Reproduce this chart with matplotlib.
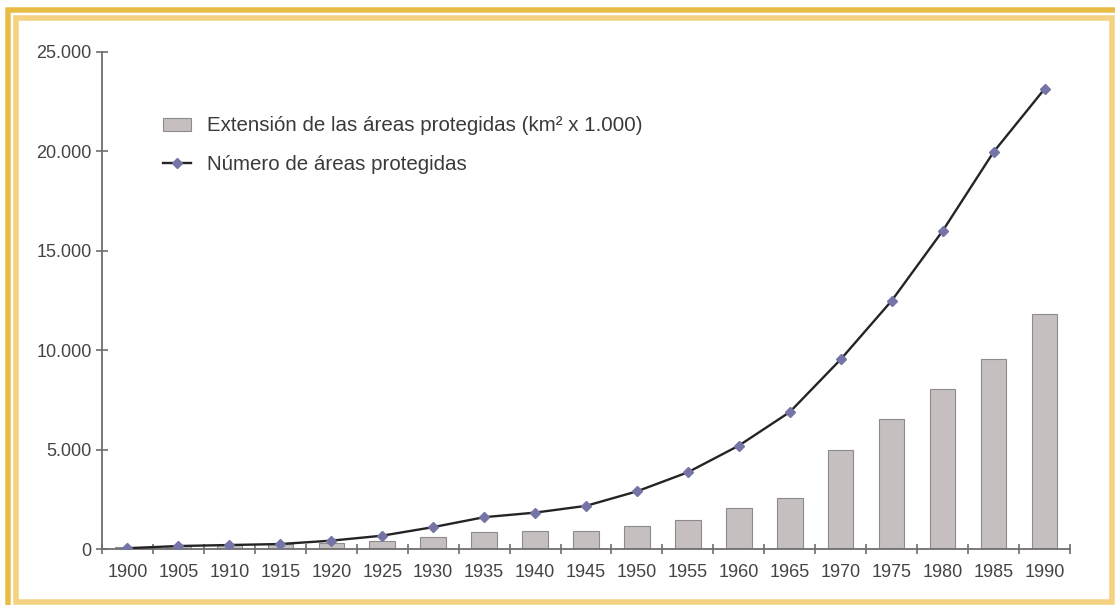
import matplotlib
matplotlib.use("Agg")
import matplotlib.pyplot as plt
from matplotlib.patches import Rectangle
from matplotlib.ticker import FuncFormatter, FixedLocator
import numpy as np

years = ["1900", "1905", "1910", "1915", "1920", "1925", "1930", "1935", "1940", "1945",
         "1950", "1955", "1960", "1965", "1970", "1975", "1980", "1985", "1990"]
extension = [100, 160, 220, 250, 320, 420, 590, 840, 920, 920,
             1160, 1470, 2080, 2570, 4980, 6520, 8030, 9560, 11840]
numero = [40, 150, 200, 250, 420, 670, 1100, 1600, 1830, 2170,
          2900, 3860, 5200, 6890, 9540, 12490, 16000, 19970, 23140]
yticks = [0, 5000, 10000, 15000, 20000, 25000]
label_bar = "Extensión de las áreas protegidas (km² x 1.000)"
label_line = "Número de áreas protegidas"

W, H = 1115, 605
plt.rcParams['font.family'] = ['Liberation Sans', 'DejaVu Sans']
fig = plt.figure(figsize=(W / 100, H / 100), dpi=100)
fig.patch.set_facecolor("white")

def px(x, y):
    return x / W, 1 - y / H

def frame_rect(x0, y0, x1, y1, lw, color):
    a, b = px(x0, y1)
    c, d = px(x1, y0)
    fig.add_artist(Rectangle((a, b), c - a, d - b, transform=fig.transFigure,
                             fill=False, edgecolor=color, linewidth=lw * 72 / 100))

frame_rect(8, 10.5, 1140, 640, 5.5, "#E9BC45")
frame_rect(15.5, 18, 1112, 602, 5.5, "#F4D27F")

ax = fig.add_axes([102 / W, 1 - 549 / H, (1070 - 102) / W, (549 - 52) / H])
ax.set_facecolor("none")
x = np.arange(len(years))
bars = ax.bar(x, extension, width=0.5, color="#C5BFC0", edgecolor="#8E8A8B", linewidth=0.8,
              label=label_bar, zorder=2)
line, = ax.plot(x, numero, color="#242424", linewidth=1.7, marker="D", markersize=4.8,
                markerfacecolor="#7474A6", markeredgecolor="#7474A6", label=label_line, zorder=3)

ax.set_xlim(-0.5, len(years) - 0.5)
ax.set_ylim(0, 25000)
ax.set_yticks(yticks)
ax.yaxis.set_major_formatter(FuncFormatter(lambda v, p: f"{int(v):,}".replace(",", ".")))
ax.xaxis.set_major_locator(FixedLocator(list(x)))
ax.set_xticklabels(years)
ax.xaxis.set_minor_locator(FixedLocator(list(np.arange(-0.5, len(years), 1.0))))
ax.tick_params(axis="x", which="major", length=0, pad=11, labelsize=13, labelcolor="#444444")
ax.tick_params(axis="x", which="minor", length=7, direction="inout", color="#6e6e6e", width=1.2)
ax.tick_params(axis="y", which="major", length=8, direction="inout", color="#6e6e6e", width=1.2,
               pad=3.5, labelsize=13, labelcolor="#444444")

for s in ["top", "right"]:
    ax.spines[s].set_visible(False)
for s in ["left", "bottom"]:
    ax.spines[s].set_color("#6e6e6e")
    ax.spines[s].set_linewidth(1.3)

leg = ax.legend([bars, line], [label_bar, label_line], loc="upper left",
                bbox_to_anchor=(153 / W, 1 - 106 / H),
                bbox_transform=fig.transFigure, frameon=False, fontsize=14.8,
                handlelength=1.35, handleheight=0.6, handletextpad=0.8, labelspacing=0.95,
                borderpad=0, labelcolor="#3a3a3a")

fig.savefig("out.png", dpi=100, facecolor="white")
